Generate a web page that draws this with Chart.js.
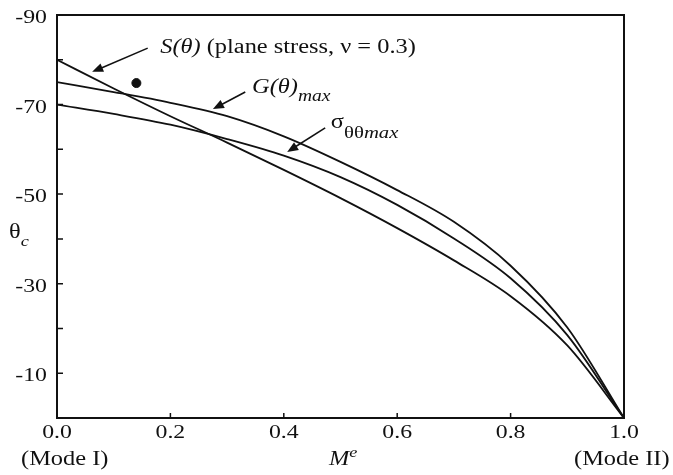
<!DOCTYPE html>
<html>
<head>
<meta charset="utf-8">
<script src="https://cdn.jsdelivr.net/npm/chart.js@4"></script>
<style>
    html, body { margin: 0; padding: 0; background: #fff; }
    #wrap { width: 673px; height: 475px; }
</style>
</head>
<body>
<div id="wrap"><canvas id="thetaChart" width="673" height="475"></canvas></div>
<script>
// 横轴 M^e 取样点
const mValues = [0, 0.1, 0.2, 0.3, 0.4, 0.5, 0.6, 0.7, 0.8, 0.9, 1.0];
// 三条曲线
const gTheta = [-75, -72.8, -70.4, -67.4, -62.9, -57.2, -50.9, -43.8, -34.0, -20.2, 0];
const sigmaTheta = [-70, -67.9, -65.5, -62.3, -58.6, -53.8, -47.6, -40.1, -31.2, -18.5, 0];
const sTheta = [-80, -73.6, -67.4, -61.5, -55.4, -49.1, -42.4, -35.2, -27.2, -16.2, 0];
// 单独的实验点
const dotM = [0.14];
const dotTheta = [-74.8];
// 刻度标签
const yTickValues = [-90, -70, -50, -30, -10];
const xTickValues = [0, 0.2, 0.4, 0.6, 0.8, 1.0];

const SERIF = '"Liberation Serif", "DejaVu Serif", serif';
const SX = 1.22; // 原图文字横向偏宽

var ThetaChart = {
    // 初始化
    Init: function() {
        const toPoints = (xs, ys) => xs.map((x, i) => ({ x: x, y: ys[i] }));
        const lineStyle = {
            borderColor: '#111',
            borderWidth: 1.8,
            pointRadius: 0,
            fill: false,
            cubicInterpolationMode: 'monotone'
        };

        new Chart(document.getElementById('thetaChart').getContext('2d'), {
            type: 'line',
            data: {
                datasets: [
                    Object.assign({ label: 'G', data: toPoints(mValues, gTheta) }, lineStyle),
                    Object.assign({ label: 'sigma', data: toPoints(mValues, sigmaTheta) }, lineStyle),
                    Object.assign({ label: 'S', data: toPoints(mValues, sTheta) }, lineStyle),
                    {
                        type: 'scatter',
                        label: 'dot',
                        data: toPoints(dotM, dotTheta),
                        pointRadius: 4.5,
                        backgroundColor: '#111',
                        borderColor: '#111'
                    }
                ]
            },
            options: {
                responsive: false,
                animation: false,
                events: [],
                layout: { padding: { left: 0, right: 49, top: 15, bottom: 0 } },
                plugins: { legend: { display: false }, tooltip: { enabled: false } },
                scales: {
                    x: {
                        type: 'linear',
                        min: 0,
                        max: 1,
                        grid: { display: false, drawTicks: false },
                        border: { display: false },
                        ticks: { stepSize: 0.2, display: false },
                        afterFit: s => { s.height = 57; }
                    },
                    y: {
                        type: 'linear',
                        min: -90,
                        max: 0,
                        reverse: true,
                        grid: { display: false, drawTicks: false },
                        border: { display: false },
                        ticks: { stepSize: 10, display: false },
                        afterFit: s => { s.width = 57; }
                    }
                }
            },
            plugins: [ThetaChart.FramePlugin]
        });
    },

    // 边框、内向刻度、标注文字和箭头
    FramePlugin: {
        id: 'frame',
        afterDraw: function(chart) {
            const ctx = chart.ctx;
            const a = chart.chartArea;
            const xs = chart.scales.x, ys = chart.scales.y;
            const px = m => xs.getPixelForValue(m);
            const py = t => ys.getPixelForValue(t);

            ctx.save();
            ctx.strokeStyle = '#111';
            ctx.fillStyle = '#111';

            // 外框
            ctx.lineWidth = 2;
            ctx.strokeRect(a.left, a.top, a.right - a.left, a.bottom - a.top);

            // 内向刻度
            ctx.lineWidth = 1.5;
            ctx.beginPath();
            ys.ticks.forEach(t => {
                const y = py(t.value);
                ctx.moveTo(a.left, y);
                ctx.lineTo(a.left + 6, y);
            });
            xs.ticks.forEach(t => {
                const x = px(t.value);
                ctx.moveTo(x, a.bottom);
                ctx.lineTo(x, a.bottom - 5);
            });
            ctx.stroke();

            // 横向拉宽的文字
            const setFont = p => {
                ctx.font = (p.italic ? 'italic ' : '') + p.size + 'px ' + SERIF;
            };
            const widthOf = parts => parts.reduce((w, p) => {
                setFont(p);
                return w + ctx.measureText(p.t).width * SX;
            }, 0);
            const rich = (x, y, parts, align) => {
                if (align === 'right') x -= widthOf(parts);
                if (align === 'center') x -= widthOf(parts) / 2;
                ctx.textAlign = 'left';
                ctx.textBaseline = 'alphabetic';
                parts.forEach(p => {
                    setFont(p);
                    ctx.save();
                    ctx.translate(x, y + (p.dy || 0));
                    ctx.scale(SX, 1);
                    ctx.fillText(p.t, 0, 0);
                    ctx.restore();
                    x += ctx.measureText(p.t).width * SX;
                });
            };

            // 刻度标签
            yTickValues.forEach(v => {
                rich(a.left - 10, py(v) + 8, [{ t: String(v), size: 19.5 }], 'right');
            });
            xTickValues.forEach(v => {
                rich(px(v), a.bottom + 20, [{ t: v.toFixed(1), size: 19.5 }], 'center');
            });

            // 箭头
            const arrow = (m1, t1, m2, t2) => {
                const x1 = px(m1), y1 = py(t1), x2 = px(m2), y2 = py(t2);
                const ang = Math.atan2(y2 - y1, x2 - x1);
                const len = 11, w = 4.5;
                ctx.lineWidth = 1.6;
                ctx.beginPath();
                ctx.moveTo(x1, y1);
                ctx.lineTo(x2 - len * 0.8 * Math.cos(ang), y2 - len * 0.8 * Math.sin(ang));
                ctx.stroke();
                ctx.beginPath();
                ctx.moveTo(x2, y2);
                ctx.lineTo(x2 - len * Math.cos(ang) + w * Math.sin(ang), y2 - len * Math.sin(ang) - w * Math.cos(ang));
                ctx.lineTo(x2 - len * Math.cos(ang) - w * Math.sin(ang), y2 - len * Math.sin(ang) + w * Math.cos(ang));
                ctx.closePath();
                ctx.fill();
            };

            arrow(0.160, -82.6, 0.062, -77.3);
            arrow(0.332, -72.8, 0.275, -69.0);
            arrow(0.473, -64.8, 0.406, -59.4);

            rich(px(0.182), 53, [
                { t: 'S(θ)', italic: true, size: 20 },
                { t: ' (plane stress, ν = 0.3)', size: 20 }
            ]);
            rich(px(0.344), 93, [
                { t: 'G(θ)', italic: true, size: 20 },
                { t: 'max', italic: true, size: 16, dy: 8 }
            ]);
            rich(px(0.483), 128, [
                { t: 'σ', size: 20 },
                { t: 'θθ', size: 17, dy: 10 },
                { t: 'max', italic: true, size: 17, dy: 10 }
            ]);

            // 轴标题
            rich(9, 238, [
                { t: 'θ', size: 20 },
                { t: 'c', italic: true, size: 15, dy: 8 }
            ]);
            rich(329, 465, [
                { t: 'M', italic: true, size: 20 },
                { t: 'e', italic: true, size: 15, dy: -8 }
            ]);
            rich(21, 465, [{ t: '(Mode I)', size: 20 }]);
            rich(574, 465, [{ t: '(Mode II)', size: 20 }]);

            ctx.restore();
        }
    }
};

document.addEventListener('DOMContentLoaded', function() {
    ThetaChart.Init();
});
</script>
</body>
</html>
